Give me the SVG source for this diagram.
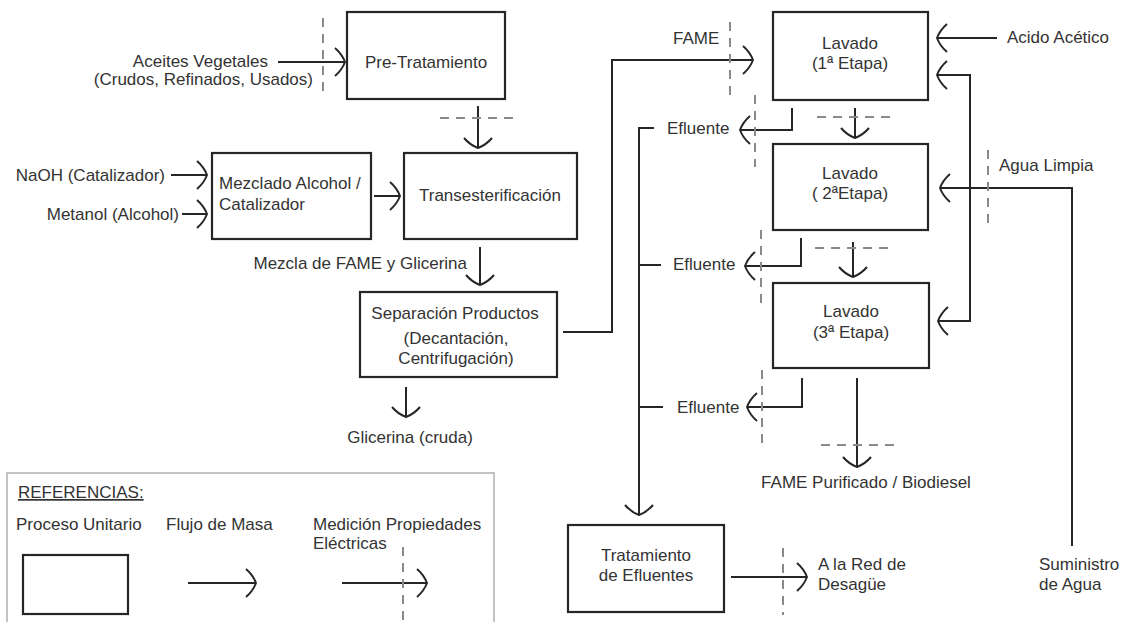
<svg xmlns="http://www.w3.org/2000/svg" width="1127" height="622" viewBox="0 0 1127 622">
<style>
text{font-family:"Liberation Sans",Arial,sans-serif;font-size:17px;fill:#333}
.m{text-anchor:middle}.e{text-anchor:end}
.box{fill:#fff;stroke:#262626;stroke-width:2.2}
.c{fill:none;stroke:#262626;stroke-width:2;marker-end:url(#arr)}
.l{fill:none;stroke:#262626;stroke-width:2}
.d{fill:none;stroke:#8a8a8a;stroke-width:2;stroke-dasharray:9 7}
</style>
<defs>
<marker id="arr" viewBox="-12 -16 14 32" markerWidth="14" markerHeight="32" refX="0" refY="0" orient="auto" markerUnits="userSpaceOnUse" overflow="visible">
<path d="M-10,-14 Q-3,-8 0,0 Q-3,8 -10,14" fill="none" stroke="#262626" stroke-width="2"/>
</marker>
</defs>
<rect width="1127" height="622" fill="#fff"/>

<g id="legend">
<rect x="7" y="473" width="487" height="170" fill="none" stroke="#b0b0b0" stroke-width="1.5"/>
<text x="18" y="498" text-decoration="underline">REFERENCIAS:</text>
<text x="16" y="530">Proceso Unitario</text>
<text x="166" y="530">Flujo de Masa</text>
<text x="313" y="530">Medición Propiedades</text>
<text x="313" y="549">Eléctricas</text>
<rect class="box" x="23" y="555" width="105" height="59"/>
<path class="c" d="M188,583 H256"/>
<path class="c" d="M342,583 H427"/>
<path class="d" d="M403,547 V625"/>
</g>

<g id="pretratamiento">
<rect class="box" x="347" y="12" width="158" height="87"/>
<text class="m" x="426" y="68">Pre-Tratamiento</text>
</g>
<g id="aceites">
<text class="e" x="268" y="67">Aceites Vegetales</text>
<text class="e" x="313" y="85">(Crudos, Refinados, Usados)</text>
</g>
<g id="naoh"><text class="e" x="165" y="181">NaOH (Catalizador)</text></g>
<g id="metanol"><text class="e" x="179" y="220">Metanol (Alcohol)</text></g>
<g id="mezclado">
<rect class="box" x="212" y="153" width="159" height="86"/>
<text x="219" y="189">Mezclado Alcohol /</text>
<text x="219" y="210">Catalizador</text>
</g>
<g id="transesterificacion">
<rect class="box" x="404" y="153" width="173" height="86"/>
<text class="m" x="490" y="201">Transesterificación</text>
</g>
<g id="mezcla"><text class="e" x="467" y="269">Mezcla de FAME y Glicerina</text></g>
<g id="separacion">
<rect class="box" x="360" y="292" width="197" height="85"/>
<text class="m" x="455" y="319">Separación Productos</text>
<text class="m" x="456" y="344">(Decantación,</text>
<text class="m" x="456" y="364">Centrifugación)</text>
</g>
<g id="glicerina"><text class="m" x="410" y="443">Glicerina (cruda)</text></g>
<g id="fame"><text x="673" y="44">FAME</text></g>
<g id="lavado1">
<rect class="box" x="773" y="12" width="155" height="88"/>
<text class="m" x="850" y="49">Lavado</text>
<text class="m" x="850" y="69">(1ª Etapa)</text>
</g>
<g id="acido"><text x="1007" y="43">Acido Acético</text></g>
<g id="lavado2">
<rect class="box" x="773" y="144" width="155" height="86"/>
<text class="m" x="850" y="179">Lavado</text>
<text class="m" x="850" y="199">( 2ªEtapa)</text>
</g>
<g id="agua"><text x="999" y="171">Agua Limpia</text></g>
<g id="lavado3">
<rect class="box" x="773" y="283" width="156" height="85"/>
<text class="m" x="851" y="317">Lavado</text>
<text class="m" x="851" y="338">(3ª Etapa)</text>
</g>
<g id="efluente1"><text x="667" y="134">Efluente</text></g>
<g id="efluente2"><text x="673" y="270">Efluente</text></g>
<g id="efluente3"><text x="677" y="413">Efluente</text></g>
<g id="biodiesel"><text class="m" x="866" y="488">FAME Purificado / Biodiesel</text></g>
<g id="tratamiento">
<rect class="box" x="568" y="525" width="156" height="87"/>
<text class="m" x="646" y="561">Tratamiento</text>
<text class="m" x="646" y="581">de Efluentes</text>
</g>
<g id="red">
<text x="818" y="570">A la Red de</text>
<text x="818" y="590">Desagüe</text>
</g>
<g id="suministro">
<text x="1039" y="570">Suministro</text>
<text x="1039" y="590">de Agua</text>
</g>

<g id="connectors">
<path class="c" d="M278,62 H345"/>
<path class="d" d="M323,18 V93"/>
<path class="c" d="M478,106 V148"/>
<path class="d" d="M440,118 H517"/>
<path class="c" d="M171,175 H207"/>
<path class="c" d="M182,214 H207"/>
<path class="c" d="M374,196 H400"/>
<path class="c" d="M480,247 V285"/>
<path class="c" d="M563,332 H612 V60 H753"/>
<path class="d" d="M730,22 V95"/>
<path class="c" d="M406,387 V417"/>
<path class="c" d="M997,38 H937"/>
<path class="c" d="M970,200 V75 H937"/>
<path class="c" d="M970,200 V321 H938"/>
<path class="c" d="M1072,546 V188 H940"/>
<path class="d" d="M988,150 V225"/>
<path class="c" d="M855,108 V138"/>
<path class="d" d="M817,117 H892"/>
<path class="c" d="M853,242 V277"/>
<path class="d" d="M815,248 H889"/>
<path class="c" d="M857,378 V467"/>
<path class="d" d="M821,445 H895"/>
<path class="c" d="M792,108 V130 H740"/>
<path class="d" d="M755,95 V167"/>
<path class="c" d="M801,238 V266 H745"/>
<path class="d" d="M761,230 V303"/>
<path class="c" d="M802,378 V407 H747"/>
<path class="d" d="M762,370 V444"/>
<path class="c" d="M654,128 H639 V515"/>
<path class="l" d="M639,265 H661"/>
<path class="l" d="M639,407 H663"/>
<path class="c" d="M731,577 H807"/>
<path class="d" d="M783,548 V615"/>
</g>
</svg>
